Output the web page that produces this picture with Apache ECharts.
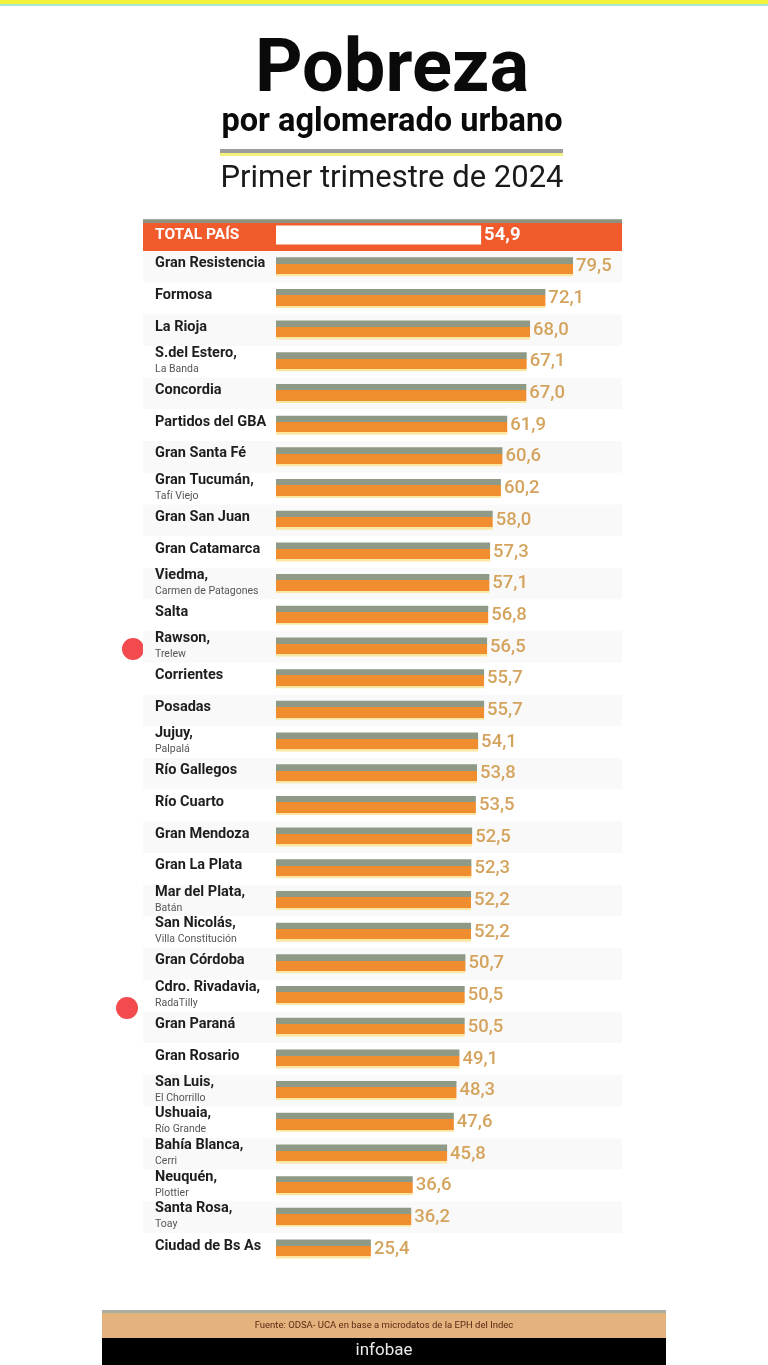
<!DOCTYPE html>
<html><head><meta charset="utf-8">
<script src="https://cdn.jsdelivr.net/npm/echarts@6/dist/echarts.min.js"></script>
<style>html,body{margin:0;padding:0;background:#fff}#c{width:768px;height:1365px}</style>
</head><body><div id="c"></div>
<script>
const names = ['TOTAL PAÍS','Gran Resistencia','Formosa','La Rioja','S.del Estero,','Concordia','Partidos del GBA','Gran Santa Fé','Gran Tucumán,','Gran San Juan','Gran Catamarca','Viedma,','Salta','Rawson,','Corrientes','Posadas','Jujuy,','Río Gallegos','Río Cuarto','Gran Mendoza','Gran La Plata','Mar del Plata,','San Nicolás,','Gran Córdoba','Cdro. Rivadavia,','Gran Paraná','Gran Rosario','San Luis,','Ushuaia,','Bahía Blanca,','Neuquén,','Santa Rosa,','Ciudad de Bs As'];
const subs = ['','','','','La Banda','','','','Tafí Viejo','','','Carmen de Patagones','','Trelew','','','Palpalá','','','','','Batán','Villa Constitución','','RadaTilly','','','El Chorrillo','Río Grande','Cerri','Plottier','Toay',''];
const values = [54.9,79.5,72.1,68.0,67.1,67.0,61.9,60.6,60.2,58.0,57.3,57.1,56.8,56.5,55.7,55.7,54.1,53.8,53.5,52.5,52.3,52.2,52.2,50.7,50.5,50.5,49.1,48.3,47.6,45.8,36.6,36.2,25.4];

const chart = echarts.init(document.getElementById('c'));
const F = 'Roboto, "Liberation Sans", sans-serif';
const barGrad = new echarts.graphic.LinearGradient(0,0,0,1,[
  {offset:0,color:'#8f9a86'},{offset:0.33,color:'#8f9a86'},
  {offset:0.33,color:'#f08d2f'},{offset:0.88,color:'#f08d2f'},
  {offset:0.88,color:'#fbe7a2'},{offset:1,color:'#fbe7a2'}]);
const totalGrad = new echarts.graphic.LinearGradient(0,0,0,1,[
  {offset:0,color:'#8c9282'},{offset:0.13,color:'#8c9282'},
  {offset:0.13,color:'#f15a2a'},{offset:1,color:'#f15a2a'}]);

const barData = values.map((v,i)=> i===0 ? {
  value:v, itemStyle:{color:'#ffffff'},
  label:{color:'#ffffff',fontWeight:'bold'}
} : {value:v});

const bgData = names.map((n,i)=> i===0 ? 1 : '-');

chart.setOption({
  animation:false,
  backgroundColor:'#ffffff',
  grid:[
    {left:276,right:118.4,top:219.2,bottom:100.1},
    {left:143,right:146,top:219.2,bottom:100.1}
  ],
  xAxis:[
    {gridIndex:0,type:'value',min:0,max:100,show:false},
    {gridIndex:1,type:'value',min:0,max:1,show:false}
  ],
  yAxis:[
    {gridIndex:0,type:'category',inverse:true,data:names,z:10,
     axisLine:{show:false},axisTick:{show:false},splitLine:{show:false},
     axisLabel:{align:'left',margin:121,
       formatter:(v,i)=> i===0 ? '{t|'+v+'}' : (subs[i] ? '{n|'+v+'}\n{s|'+subs[i]+'}' : '{n|'+v+'}'),
       rich:{
         t:{color:'#ffffff',fontWeight:'bold',fontSize:15.5,fontFamily:F},
         n:{color:'#1e1e1e',fontWeight:'bold',fontSize:14.5,fontFamily:F,lineHeight:15,padding:[0,0,6,0]},
         s:{color:'#555555',fontSize:10.5,fontFamily:F,lineHeight:11}
       }}},
    {gridIndex:1,type:'category',inverse:true,data:names,show:true,z:0,
     axisLine:{show:false},axisTick:{show:false},axisLabel:{show:false},
     splitLine:{show:false},
     splitArea:{show:true,areaStyle:{color:['#ffffff','#f9f9f9']}}}
  ],
  series:[
    {type:'bar',xAxisIndex:1,yAxisIndex:1,data:bgData,barWidth:'100%',z:1,
     itemStyle:{color:totalGrad},silent:true},
    {type:'bar',xAxisIndex:0,yAxisIndex:0,data:barData,barWidth:19,z:3,
     itemStyle:{color:barGrad},
     label:{show:true,position:'right',distance:3,color:'#d4a45f',fontSize:18.5,fontWeight:500,fontFamily:F,
       formatter:p=>p.value.toFixed(1).replace('.',',')}}
  ],
  graphic:[
    {type:'rect',shape:{x:0,y:0,width:768,height:4},style:{fill:'#f3f33c'}},
    {type:'rect',shape:{x:0,y:4,width:768,height:2},style:{fill:'#a8e8d2'}},
    {type:'text',x:392,y:72,style:{text:'Pobreza',fill:'#0a0a0a',font:'bold 74px '+F,textAlign:'center',textVerticalAlign:'middle'}},
    {type:'text',x:392,y:123,style:{text:'por aglomerado urbano',fill:'#0a0a0a',font:'bold 32.5px '+F,textAlign:'center',textVerticalAlign:'middle'}},
    {type:'rect',shape:{x:220,y:149,width:343,height:4},style:{fill:'#9c9c9c'}},
    {type:'rect',shape:{x:220,y:153,width:343,height:3},style:{fill:'#f3f07c'}},
    {type:'text',x:392,y:179,style:{text:'Primer trimestre de 2024',fill:'#1a1a1a',font:'31px '+F,textAlign:'center',textVerticalAlign:'middle'}},
    {type:'circle',shape:{cx:133,cy:649,r:11},style:{fill:'#f24a4e'}},
    {type:'circle',shape:{cx:127,cy:1008,r:11},style:{fill:'#f24a4e'}},
    {type:'rect',shape:{x:102,y:1310,width:564,height:3},style:{fill:'#a9b0a2'}},
    {type:'rect',shape:{x:102,y:1313,width:564,height:25},style:{fill:'#e3b27d'}},
    {type:'text',x:384,y:1326,style:{text:'Fuente: ODSA- UCA en base a microdatos de la EPH del Indec',fill:'#5a2a14',font:'9.5px '+F,textAlign:'center',textVerticalAlign:'middle'}},
    {type:'rect',shape:{x:102,y:1338,width:564,height:27},style:{fill:'#000000'}},
    {type:'text',x:384,y:1351,style:{text:'infobae',fill:'#e8e8e8',font:'17px '+F,textAlign:'center',textVerticalAlign:'middle'}}
  ]
});
</script></body></html>
